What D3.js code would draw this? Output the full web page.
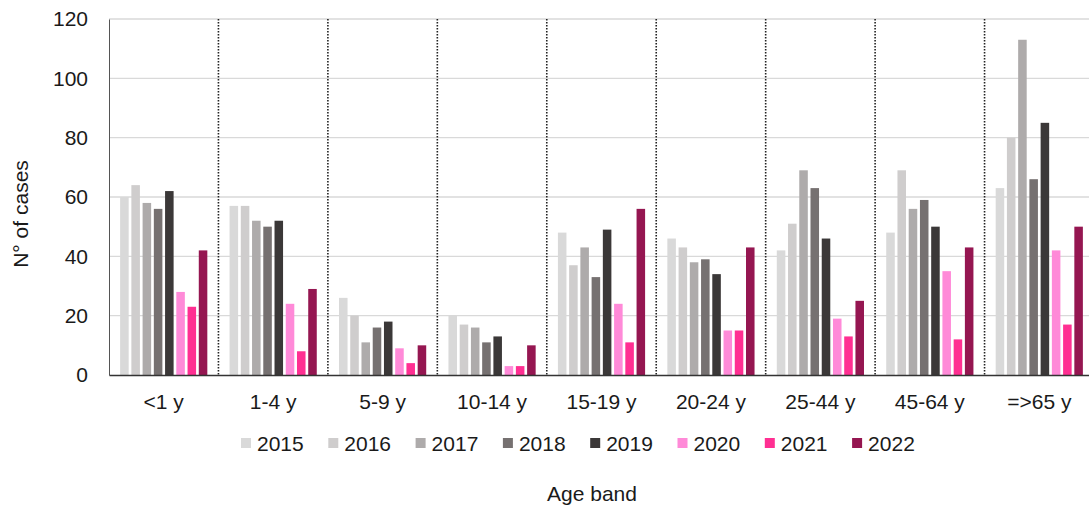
<!DOCTYPE html>
<html><head><meta charset="utf-8">
<script src="https://cdn.jsdelivr.net/npm/d3@7"></script>
<style>body{margin:0;background:#fff}svg text{font-family:"Liberation Sans",Arial,sans-serif;fill:#1a1a1a}</style>
</head><body><svg id="c" width="1089" height="508"></svg>
<script>
const categories = ["<1 y","1-4 y","5-9 y","10-14 y","15-19 y","20-24 y","25-44 y","45-64 y","=>65 y"];
const years = ["2015","2016","2017","2018","2019","2020","2021","2022"];
const colors = ["#d9d9d9","#cfcdcd","#aeabab","#767171","#3b3838","#ff8ad8","#ff2f92","#951651"];
const v2015 = [60,57,26,20,48,46,42,48,63];
const v2016 = [64,57,20,17,37,43,51,69,80];
const v2017 = [58,52,11,16,43,38,69,56,113];
const v2018 = [56,50,16,11,33,39,63,59,66];
const v2019 = [62,52,18,13,49,34,46,50,85];
const v2020 = [28,24,9,3,24,15,19,35,42];
const v2021 = [23,8,4,3,11,15,13,12,17];
const v2022 = [42,29,10,10,56,43,25,43,50];
const yTicks = [0,20,40,60,80,100,120];

const series = [v2015,v2016,v2017,v2018,v2019,v2020,v2021,v2022];
const FS = 21;
const svg = d3.select("#c");
const pLeft = 109, pRight = 1094, pTop = 19, pBottom = 375;
const x = d3.scaleBand().domain(categories).range([pLeft,pRight]).paddingInner(0).paddingOuter(0);
const x1 = d3.scaleBand().domain(years).range([10, x.bandwidth()-10]).paddingInner(0.24).paddingOuter(0.1);
const y = d3.scaleLinear().domain([0,120]).range([pBottom,pTop]);

// gridlines
svg.append("g").selectAll("line").data(yTicks.filter(t=>t>0)).join("line")
  .attr("x1",pLeft).attr("x2",pRight).attr("y1",d=>y(d)).attr("y2",d=>y(d))
  .attr("stroke","#d9d9d9").attr("stroke-width",1.3);

// dotted dividers
svg.append("g").selectAll("line").data(categories.slice(1)).join("line")
  .attr("x1",d=>x(d)).attr("x2",d=>x(d)).attr("y1",pTop).attr("y2",pBottom)
  .attr("stroke","#222").attr("stroke-width",1.6).attr("stroke-dasharray","1.5,1.5");

// bars
const g = svg.append("g");
categories.forEach((c,i)=>{
  years.forEach((yr,j)=>{
    const v = series[j][i];
    g.append("rect").attr("x",x(c)+x1(yr)).attr("width",x1.bandwidth())
      .attr("y",y(v)).attr("height",y(0)-y(v)).attr("fill",colors[j]);
  });
});

// y axis
const ya = d3.axisLeft(y).tickValues(yTicks).tickSize(0).tickPadding(21);
const yg = svg.append("g").attr("transform",`translate(${pLeft},0)`).call(ya);
yg.select(".domain").attr("stroke","#555").attr("stroke-width",1);
yg.selectAll("text").attr("font-size",FS).style("font-family","Liberation Sans, Arial, sans-serif").attr("fill","#1a1a1a");

// x axis
const xa = d3.axisBottom(x).tickSize(0).tickPadding(19);
const xg = svg.append("g").attr("transform",`translate(0,${pBottom})`).call(xa);
xg.select(".domain").attr("stroke","#333").attr("stroke-width",1.6);
xg.selectAll("text").attr("font-size",FS).style("font-family","Liberation Sans, Arial, sans-serif").attr("fill","#1a1a1a");

// axis titles
svg.append("text").attr("transform","translate(28,214) rotate(-90)").attr("text-anchor","middle")
  .attr("font-size",FS).text("N° of cases");
svg.append("text").attr("x",592).attr("y",501).attr("text-anchor","middle").attr("font-size",FS).text("Age band");

// legend
const lg = svg.append("g");
years.forEach((yr,j)=>{
  const lx = 241 + j*87.3;
  lg.append("rect").attr("x",lx).attr("y",438).attr("width",10).attr("height",10).attr("fill",colors[j]);
  lg.append("text").attr("x",lx+16).attr("y",451).attr("font-size",FS).text(yr);
});
</script></body></html>
